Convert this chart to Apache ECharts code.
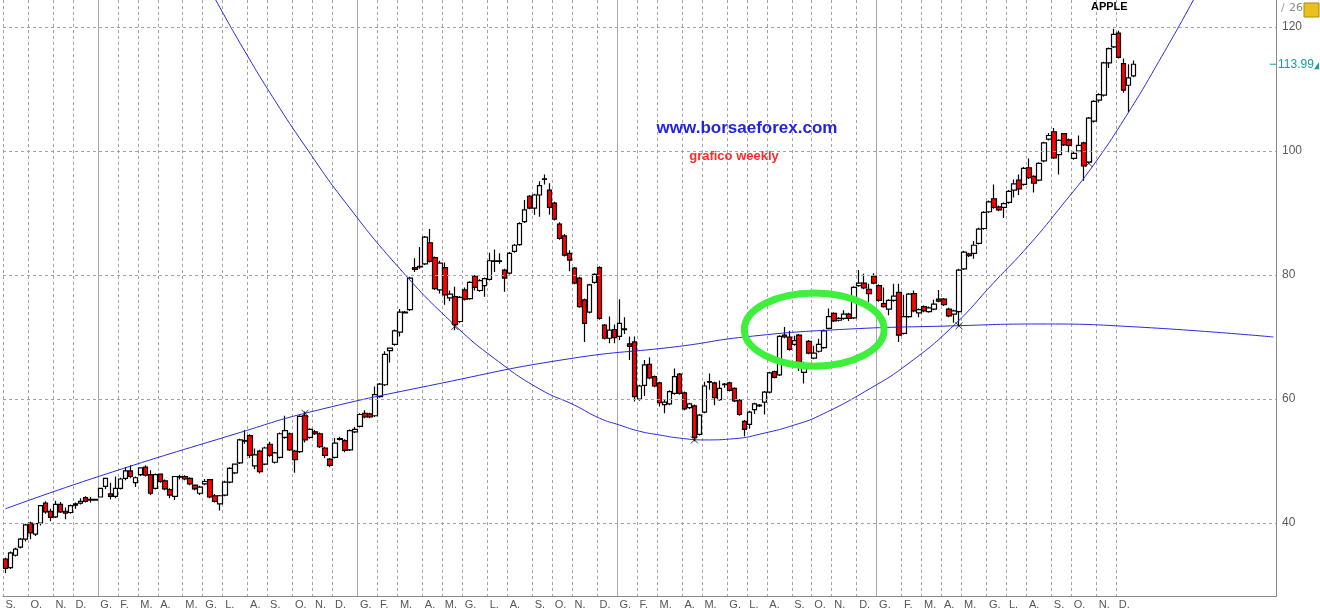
<!DOCTYPE html>
<html><head><meta charset="utf-8">
<script src="https://cdn.jsdelivr.net/npm/echarts@6/dist/echarts.min.js"></script>
<style>html,body{margin:0;padding:0;background:#fff}#c{width:1320px;height:610px}</style>
</head><body><div id="c"></div>
<script>
// ---- DATA (weekly candles, first week = 23 Aug 2010) ----
const opens = [
34.2,32.8,34.8,36.1,37.4,40.0,38.2,40.0,43.2,41.9,
41.0,43.0,41.9,41.7,42.9,43.2,44.1,43.8,43.8,44.2,
45.9,44.7,44.3,45.6,47.2,48.4,46.5,47.8,49.0,47.8,
45.6,47.9,46.8,45.4,44.3,47.5,47.5,47.2,46.1,44.8,
46.3,47.0,44.4,43.1,44.5,46.6,48.1,49.7,53.3,54.1,
49.2,51.6,49.5,52.7,49.8,50.6,53.8,54.4,51.6,51.5,
57.3,53.8,54.7,54.4,52.1,50.3,50.6,53.6,53.3,51.8,
54.7,55.6,57.7,57.6,57.3,60.4,62.3,67.8,68.8,70.8,
74.0,74.4,81.2,81.4,81.8,85.2,82.8,77.6,81.2,76.3,
76.5,72.5,77.6,76.2,79.8,77.5,78.3,79.3,82.3,82.3,
80.8,80.3,83.8,84.9,88.6,92.7,90.8,92.9,95.5,93.7,
91.6,88.2,86.3,83.5,81.1,79.5,76.0,74.0,78.8,81.2,
71.9,69.8,71.2,70.1,71.3,68.9,69.2,60.0,62.2,65.6,
63.6,62.6,59.1,59.2,60.9,64.0,61.0,58.6,58.9,54.3,
57.9,62.8,62.6,59.9,62.4,62.6,61.7,59.8,56.4,55.9,
58.3,59.0,59.5,61.1,64.4,63.9,70.3,70.0,68.8,70.3,
64.3,69.3,66.6,67.7,68.3,71.4,73.8,72.7,73.0,73.7,
73.1,78.3,78.7,77.7,79.8,78.3,75.4,74.5,75.9,77.2,
70.6,73.3,77.0,73.9,74.9,74.1,74.5,76.1,76.1,74.5,
73.7,74.1,81.0,83.4,83.5,85.1,87.5,90.2,92.3,91.0,
90.9,91.7,93.7,95.3,94.6,97.3,95.9,95.3,98.4,101.9,
103.1,99.4,102.8,101.8,98.8,100.0,101.3,98.2,104.8,108.2,
109.0,114.2,116.8,119.0,114.1,110.6,112.1];
const closes = [
32.7,35.2,35.8,37.4,39.7,38.4,39.9,42.8,41.8,40.9,
43.0,41.8,41.6,42.8,43.1,43.5,43.5,43.7,43.7,45.6,
47.2,44.3,45.6,47.1,48.4,47.5,47.3,48.9,47.7,44.8,
47.8,46.7,45.5,44.5,47.5,47.4,47.1,46.3,45.5,45.8,
46.7,44.2,43.5,44.4,46.6,48.8,49.5,53.4,53.2,50.9,
51.0,48.3,52.1,50.9,51.3,54.4,54.9,51.8,50.2,57.2,
53.4,55.1,54.4,52.3,50.9,49.3,52.9,53.5,51.7,54.9,
55.1,57.5,57.1,57.1,60.7,62.4,67.2,68.2,71.0,74.0,
73.9,79.5,80.9,81.3,86.1,82.2,77.8,81.9,76.8,76.9,
72.0,76.4,76.1,78.8,78.0,79.1,79.4,82.3,82.2,82.2,
79.5,83.5,84.8,88.3,90.5,90.8,92.9,94.4,95.4,90.9,
89.0,85.9,83.2,82.4,78.7,74.9,72.2,78.4,80.1,73.0,
69.8,71.1,69.9,72.2,71.2,68.5,60.4,62.1,65.5,63.4,
62.1,59.4,59.5,61.2,63.6,60.9,58.4,59.2,53.8,57.4,
62.1,62.7,60.2,61.7,62.3,61.4,59.7,57.5,55.1,57.9,
59.2,58.9,61.1,64.2,63.5,70.1,70.0,68.0,69.4,65.1,
65.2,67.4,67.4,68.8,71.0,73.3,72.6,73.0,73.7,73.0,
78.0,78.7,77.9,77.0,78.7,75.9,74.9,75.9,76.6,70.3,
73.3,76.9,74.2,74.4,74.2,74.7,75.3,75.8,75.2,73.4,
74.2,80.8,83.7,83.1,84.8,87.4,90.1,91.8,90.9,90.5,
91.5,93.5,94.7,93.9,97.2,95.7,94.8,98.0,101.3,102.5,
98.9,101.7,101.0,100.9,99.6,100.9,97.6,105.3,108.0,109.1,
114.2,116.5,118.8,115.1,109.8,111.8,113.99];
const lows = [
31.9,32.6,34.6,35.9,37.0,37.4,37.9,39.6,41.5,40.3,
40.8,41.6,40.6,41.5,42.3,43.0,43.3,43.3,43.6,44.1,
45.5,43.8,44.0,45.4,46.9,47.2,45.8,47.6,47.5,44.5,
45.4,46.5,45.3,44.0,43.7,47.0,46.9,46.1,45.3,44.5,
46.1,44.0,43.3,42.0,44.3,46.4,47.9,49.5,52.8,50.5,
48.7,48.0,49.3,50.7,49.6,50.4,53.6,51.6,48.1,51.3,
53.0,53.6,54.2,52.1,50.5,49.0,50.4,53.3,51.4,51.6,
54.5,55.4,56.9,56.9,57.1,60.2,62.1,65.9,68.6,70.1,
73.8,74.2,80.5,81.0,81.6,82.0,77.6,77.0,75.2,75.8,
71.1,72.3,75.9,76.0,77.5,77.3,76.5,79.1,80.5,81.8,
77.3,80.1,83.6,84.7,88.4,90.6,89.7,89.4,94.6,89.7,
88.8,85.7,83.0,80.6,78.5,74.7,69.2,73.8,78.6,72.8,
69.6,69.0,69.0,69.5,70.5,66.3,59.6,59.7,60.5,63.2,
61.9,58.8,57.7,59.0,60.7,60.7,58.2,58.4,53.2,54.1,
57.7,61.5,59.0,59.7,61.8,61.2,59.5,57.3,54.0,55.2,
57.6,58.7,57.5,60.9,63.3,63.7,69.8,67.8,68.6,64.5,
62.5,67.2,66.4,67.5,68.1,71.2,72.4,72.5,72.8,72.6,
72.9,78.1,77.7,75.6,78.5,75.7,74.7,73.5,75.7,69.2,
70.4,73.1,74.0,73.2,74.0,73.9,74.3,75.6,75.0,73.2,
72.3,71.8,80.8,82.9,82.6,84.9,87.3,90.0,90.7,90.3,
89.2,91.5,92.5,92.9,94.4,95.5,93.3,95.1,98.2,101.7,
98.7,96.2,100.8,99.8,98.6,99.8,95.2,98.0,104.6,107.8,
108.8,113.4,116.6,114.9,109.4,106.3,111.9];
const highs = [
34.4,35.4,36.0,37.6,39.9,40.2,40.0,42.9,43.5,42.3,
43.6,43.4,42.5,43.0,43.3,44.0,44.3,44.2,43.9,45.7,
47.3,46.5,47.5,47.3,49.0,49.3,47.5,49.0,49.3,48.5,
48.0,48.0,47.0,45.6,47.6,47.8,47.7,47.4,46.2,46.0,
47.1,47.1,44.7,44.5,46.8,49.0,49.5,53.6,55.0,54.3,
52.0,51.8,52.3,53.1,51.5,54.6,57.3,54.6,51.8,57.4,
58.0,55.3,55.0,54.6,52.3,50.5,53.7,53.9,53.5,55.1,
55.5,57.7,58.2,57.8,62.0,62.6,67.7,68.3,71.2,74.5,
74.2,79.7,82.7,84.5,86.3,87.4,83.0,82.3,82.0,77.5,
78.1,76.6,78.0,79.0,80.0,79.3,79.6,83.6,84.1,83.5,
81.0,83.7,85.0,88.5,92.1,92.9,93.1,95.1,96.2,94.8,
91.8,88.5,86.6,84.0,81.3,79.7,76.2,78.6,80.3,81.4,
72.1,73.3,72.0,76.1,73.2,70.1,70.1,62.3,66.3,66.7,
63.8,62.8,60.0,61.4,64.9,64.2,61.2,59.4,59.1,57.6,
62.8,64.1,62.8,63.0,62.6,62.8,61.9,60.0,56.6,58.1,
59.4,59.2,61.3,64.4,64.6,70.3,71.6,71.0,70.2,70.5,
66.0,69.5,68.6,69.7,71.2,74.6,74.0,73.2,74.3,73.9,
78.2,80.8,80.2,78.6,80.3,78.5,78.0,76.1,78.6,78.6,
76.8,77.1,77.5,74.6,75.1,74.9,76.0,77.6,76.3,74.7,
74.4,81.0,83.9,83.6,85.5,87.6,90.3,92.0,94.6,91.2,
91.7,93.7,95.4,96.2,97.4,98.8,96.1,98.2,101.5,102.9,
103.7,101.9,102.9,102.0,100.0,102.5,101.5,105.5,108.2,109.3,
114.4,116.7,119.7,119.4,114.9,114.0,114.6];

// month labels (Italian initials) at the first week of each month
const monthStartIdx = [0,5,10,14,
 19,23,27,31,36,40,44,49,53,58,62,66,
 71,75,79,84,88,92,97,101,106,110,114,119,
 123,127,131,136,140,145,149,153,158,162,166,171,
 175,180,184,188,192,197,201,205,210,214,219,223];
const monthNames = ['S.','O.','N.','D.',
 'G.','F.','M.','A.','M.','G.','L.','A.','S.','O.','N.','D.',
 'G.','F.','M.','A.','M.','G.','L.','A.','S.','O.','N.','D.',
 'G.','F.','M.','A.','M.','G.','L.','A.','S.','O.','N.','D.',
 'G.','F.','M.','A.','M.','G.','L.','A.','S.','O.','N.','D.'];
const januaryIdx = [19,71,123,175];
const yTicks = [40,60,80,100,120];
const lastPrice = 113.99;
const TOTAL_SLOTS = 255;

// hand-drawn study lines: [week index, price]
const curveA = [[38,130.4],[42,124.5],[48,116.0],[54,108.1],[60,100.8],[68,91.8],[79,81.0],
 [90,71.9],[98,66.5],[107,61.6],[114,59.0],[119,56.9],[123,55.8],[127,54.8],[131,54.2],
 [135,53.7],[140,53.4],[146,53.6],[152,54.5],[158,55.8],[163,57.3],[173,61.6],[181,65.8],
 [190,71.9],[198,78.8],[205,84.8],[212,91.6],[218,97.8],[225,106.3],[231,114.4],[238,124.4],[244,133.4]];
const curveB = [[0,42.3],[19,47.6],[47,54.6],[61,57.9],[87,62.5],[113,66.5],[135,68.5],
 [148,70.0],[167,71.2],[190,71.8],[207,72.1],[227,71.6],[254,70.0]];
const touchPoints = [[60,57.7],[90,71.7],[138,53.4],[191,71.8],[217,98.0]];
const ellipseNote = {cx:162.2, cy:71.2, rx:13.7, ry:5.9};

// ---- BUILD ----
const categories = Array.from({length: TOTAL_SLOTS}, (_, i) => 'w' + i);
const labelMap = new Map(monthStartIdx.map((k, j) => [k, monthNames[j]]));
const janSet = new Set(januaryIdx);
const candles = opens.map((o, i) => {
  const c = closes[i];
  return [o, c, Math.min(lows[i], o, c), Math.max(highs[i], o, c)];
});

const chart = echarts.init(document.getElementById('c'));
const option = {
  animation: false,
  backgroundColor: '#ffffff',
  grid: {left: 3, right: 44, top: 0, bottom: 14},
  xAxis: [{
    type: 'category', data: categories, boundaryGap: true,
    axisLine: {show: true, lineStyle: {color: '#8a8a8a', width: 1}},
    axisTick: {show: false},
    axisLabel: {
      interval: (i) => labelMap.has(i),
      formatter: (v, i) => labelMap.get(i) || '',
      align: 'left', margin: 3, color: '#555', fontSize: 11,
      fontFamily: 'Liberation Sans, Arial, sans-serif'
    },
    splitLine: {show: true, interval: (i) => labelMap.has(i) && !janSet.has(i),
      lineStyle: {color: '#a2a2a2', type: [3, 3], width: 1}}
  }, {
    type: 'category', data: categories, boundaryGap: true, position: 'bottom',
    axisLine: {show: false}, axisTick: {show: false}, axisLabel: {show: false},
    splitLine: {show: true, interval: (i) => janSet.has(i),
      lineStyle: {color: '#a8a8a8', type: 'solid', width: 1}}
  }],
  yAxis: {
    type: 'value', position: 'right', min: 28.23, max: 124.35,
    axisLine: {show: true, lineStyle: {color: '#8a8a8a'}},
    axisTick: {show: false}, axisLabel: {show: false}, splitLine: {show: false}
  },
  series: [{
    type: 'line', data: [], z: 1, silent: true,
    markLine: {
      silent: true, symbol: 'none', animation: false,
      lineStyle: {color: '#a2a2a2', type: [3, 3], width: 1},
      label: {show: true, position: 'end', distance: 6, formatter: (p) => String(p.value),
        color: '#5a5a5a', fontSize: 12, fontFamily: 'Liberation Sans, Arial, sans-serif'},
      data: yTicks.map(v => ({yAxis: v}))
    }
  }, {
    type: 'candlestick', data: candles, z: 2, barWidth: 5, barMinWidth: 4,
    itemStyle: {color: '#ffffff', color0: '#ff0000', borderColor: '#000000',
      borderColor0: '#000000', borderWidth: 1.2}
  }, {
    type: 'line', data: curveA, smooth: 0.5, symbol: 'none', z: 3, silent: true,
    lineStyle: {color: '#2a2ae0', width: 1}
  }, {
    type: 'line', data: curveB, smooth: true, symbol: 'none', z: 3, silent: true,
    lineStyle: {color: '#2a2ae0', width: 1}
  }, {
    type: 'scatter', data: touchPoints, z: 4, silent: true,
    symbol: 'path://M0,0L10,10M10,0L0,10', symbolSize: 7,
    itemStyle: {color: 'none', borderColor: '#000', borderWidth: 1}
  }]
};
chart.setOption(option);

const toPx = (x, y) => chart.convertToPixel({xAxisIndex: 0, yAxisIndex: 0}, [x, y]);
const c0 = toPx(ellipseNote.cx, ellipseNote.cy);
const c1 = toPx(ellipseNote.cx + ellipseNote.rx, ellipseNote.cy + ellipseNote.ry);
const lp = toPx(0, lastPrice);
const gridRight = 1320 - 44;
chart.setOption({
  graphic: [
    {type: 'ellipse', z: 10, shape: {cx: c0[0], cy: c0[1], rx: Math.abs(c1[0] - c0[0]), ry: Math.abs(c0[1] - c1[1])},
      style: {fill: 'none', stroke: '#3cf03c', lineWidth: 7}},
    {type: 'text', z: 10, x: 1091, y: 1, style: {text: 'APPLE', font: 'bold 11px "Liberation Sans", Arial, sans-serif', fill: '#000'}},
    {type: 'text', z: 10, x: 747, y: 128, style: {text: 'www.borsaeforex.com', font: 'bold 17px "Liberation Sans", Arial, sans-serif', fill: '#2323e6', textAlign: 'center', textVerticalAlign: 'middle'}},
    {type: 'text', z: 10, x: 734, y: 156, style: {text: 'grafico weekly', font: 'bold 13px "Liberation Sans", Arial, sans-serif', fill: '#ff2a2a', textAlign: 'center', textVerticalAlign: 'middle'}},
    {type: 'line', z: 10, shape: {x1: gridRight - 6, y1: lp[1], x2: gridRight, y2: lp[1]}, style: {stroke: '#14a0a0', lineWidth: 1}},
    {type: 'text', z: 10, x: gridRight + 2, y: lp[1], style: {text: lastPrice.toFixed(2), font: '12px "Liberation Sans", Arial, sans-serif', fill: '#14a0a0', textVerticalAlign: 'middle'}},
    {type: 'polygon', z: 10, shape: {points: [[gridRight + 38, lp[1] + 5], [gridRight + 43, lp[1] + 5], [gridRight + 43, lp[1] - 2]]}, style: {fill: '#14a0a0'}},
    {type: 'text', z: 10, x: 1281, y: 3, style: {text: '/', font: '11px "DejaVu Sans", sans-serif', fill: '#999'}},
    {type: 'text', z: 10, x: 1289, y: 3, style: {text: '26', font: '11px "DejaVu Sans", sans-serif', fill: '#888'}},
    {type: 'rect', z: 10, shape: {x: 1304, y: 3, width: 15, height: 14}, style: {fill: '#e8c020', stroke: '#b08a00'}}
  ]
});
</script>
</body></html>
